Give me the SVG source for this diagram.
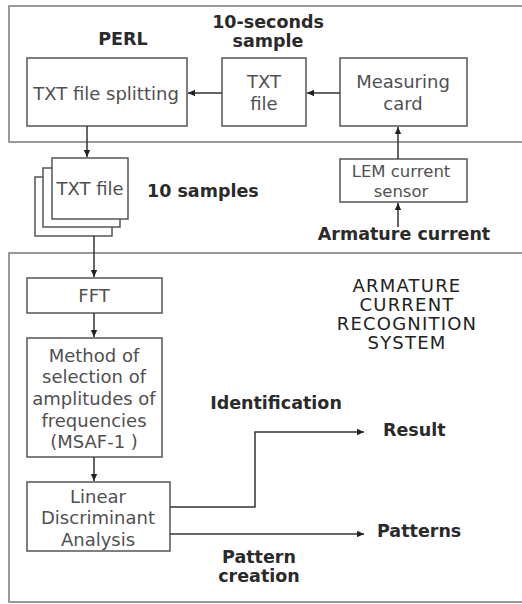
<svg xmlns="http://www.w3.org/2000/svg" width="522" height="604" viewBox="0 0 522 604">
<style>
  .frame { fill: none; stroke: #808080; stroke-width: 1.6; }
  .box { fill: #fff; stroke: #555; stroke-width: 1.5; }
  .t { font-family: "DejaVu Sans", Verdana, sans-serif; font-size: 18px; fill: #505050; text-anchor: middle; }
  .s { font-size: 16.5px; }
  .b { font-family: "DejaVu Sans", Verdana, sans-serif; font-size: 17.5px; font-weight: bold; fill: #2a2a2a; }
  .c { text-anchor: middle; }
  .sys { font-family: "DejaVu Sans", Verdana, sans-serif; font-size: 18px; fill: #222; text-anchor: middle; letter-spacing: 1.2px; }
  .conn { fill: none; stroke: #333; stroke-width: 1.5; }
</style>
<defs>
  <marker id="ah" markerWidth="8" markerHeight="8" refX="7" refY="4" orient="auto" markerUnits="userSpaceOnUse">
    <path d="M0,0.8 L7,4 L0,7.2 Z" fill="#222"/>
  </marker>
</defs>
<rect width="522" height="604" fill="#fff"/>

<g id="perl-frame">
  <rect class="frame" x="9" y="6" width="530" height="136"/>
  <text class="b c" x="123" y="45">PERL</text>
  <text class="b c" x="268" y="28">10-seconds</text>
  <text class="b c" x="268" y="47">sample</text>
</g>

<g id="system-frame">
  <rect class="frame" x="9" y="253" width="530" height="349"/>
  <text class="sys" x="407" y="292">ARMATURE</text>
  <text class="sys" x="407" y="311">CURRENT</text>
  <text class="sys" x="407" y="330">RECOGNITION</text>
  <text class="sys" x="407" y="349">SYSTEM</text>
</g>

<g id="txt-splitting">
  <rect class="box" x="27" y="58" width="160" height="68"/>
  <text class="t" x="106" y="100">TXT file splitting</text>
</g>

<g id="txt-file">
  <rect class="box" x="222" y="58" width="84" height="68"/>
  <text class="t" x="264" y="88">TXT</text>
  <text class="t" x="264" y="110">file</text>
</g>

<g id="measuring-card">
  <rect class="box" x="340" y="58" width="127" height="68"/>
  <text class="t" x="403" y="88">Measuring</text>
  <text class="t" x="403" y="110">card</text>
</g>

<g id="lem-sensor">
  <rect class="box" x="340" y="159" width="127" height="43"/>
  <text class="t s" x="401" y="177">LEM current</text>
  <text class="t s" x="401" y="197">sensor</text>
</g>

<g id="armature-current">
  <text class="b c" x="404" y="240">Armature current</text>
</g>

<g id="txt-samples">
  <rect class="box" x="35" y="177" width="77" height="59"/>
  <rect class="box" x="43" y="168" width="77" height="59"/>
  <rect class="box" x="52" y="158" width="76" height="61"/>
  <text class="t" x="90" y="195">TXT file</text>
  <text class="b" x="147" y="197">10 samples</text>
</g>

<g id="fft">
  <rect class="box" x="27" y="278" width="135" height="35"/>
  <text class="t" x="94" y="302">FFT</text>
</g>

<g id="msaf">
  <rect class="box" x="27" y="338" width="135" height="119"/>
  <text class="t" x="94" y="362">Method of</text>
  <text class="t" x="94" y="383">selection of</text>
  <text class="t" x="94" y="405">amplitudes of</text>
  <text class="t" x="94" y="427">frequencies</text>
  <text class="t" x="94" y="448">(MSAF-1 )</text>
</g>

<g id="lda">
  <rect class="box" x="27" y="482" width="143" height="69"/>
  <text class="t" x="98" y="503">Linear</text>
  <text class="t" x="98" y="524">Discriminant</text>
  <text class="t" x="98" y="546">Analysis</text>
</g>

<g id="result">
  <text class="b" x="383" y="436">Result</text>
</g>

<g id="patterns">
  <text class="b" x="377" y="537">Patterns</text>
</g>

<g id="connectors">
  <line class="conn" x1="222" y1="93" x2="188" y2="93" marker-end="url(#ah)"/>
  <line class="conn" x1="340" y1="93" x2="307" y2="93" marker-end="url(#ah)"/>
  <line class="conn" x1="398" y1="159" x2="398" y2="127" marker-end="url(#ah)"/>
  <line class="conn" x1="398" y1="227" x2="398" y2="203" marker-end="url(#ah)"/>
  <line class="conn" x1="87" y1="126" x2="87" y2="157" marker-end="url(#ah)"/>
  <line class="conn" x1="94" y1="236" x2="94" y2="277" marker-end="url(#ah)"/>
  <line class="conn" x1="94" y1="313" x2="94" y2="337" marker-end="url(#ah)"/>
  <line class="conn" x1="94" y1="457" x2="94" y2="481" marker-end="url(#ah)"/>
  <polyline class="conn" points="170,507 255,507 255,432 364,432" marker-end="url(#ah)"/>
  <line class="conn" x1="170" y1="534" x2="364" y2="534" marker-end="url(#ah)"/>
  <text class="b c" x="276" y="409">Identification</text>
  <text class="b c" x="259" y="563">Pattern</text>
  <text class="b c" x="259" y="582">creation</text>
</g>
</svg>
